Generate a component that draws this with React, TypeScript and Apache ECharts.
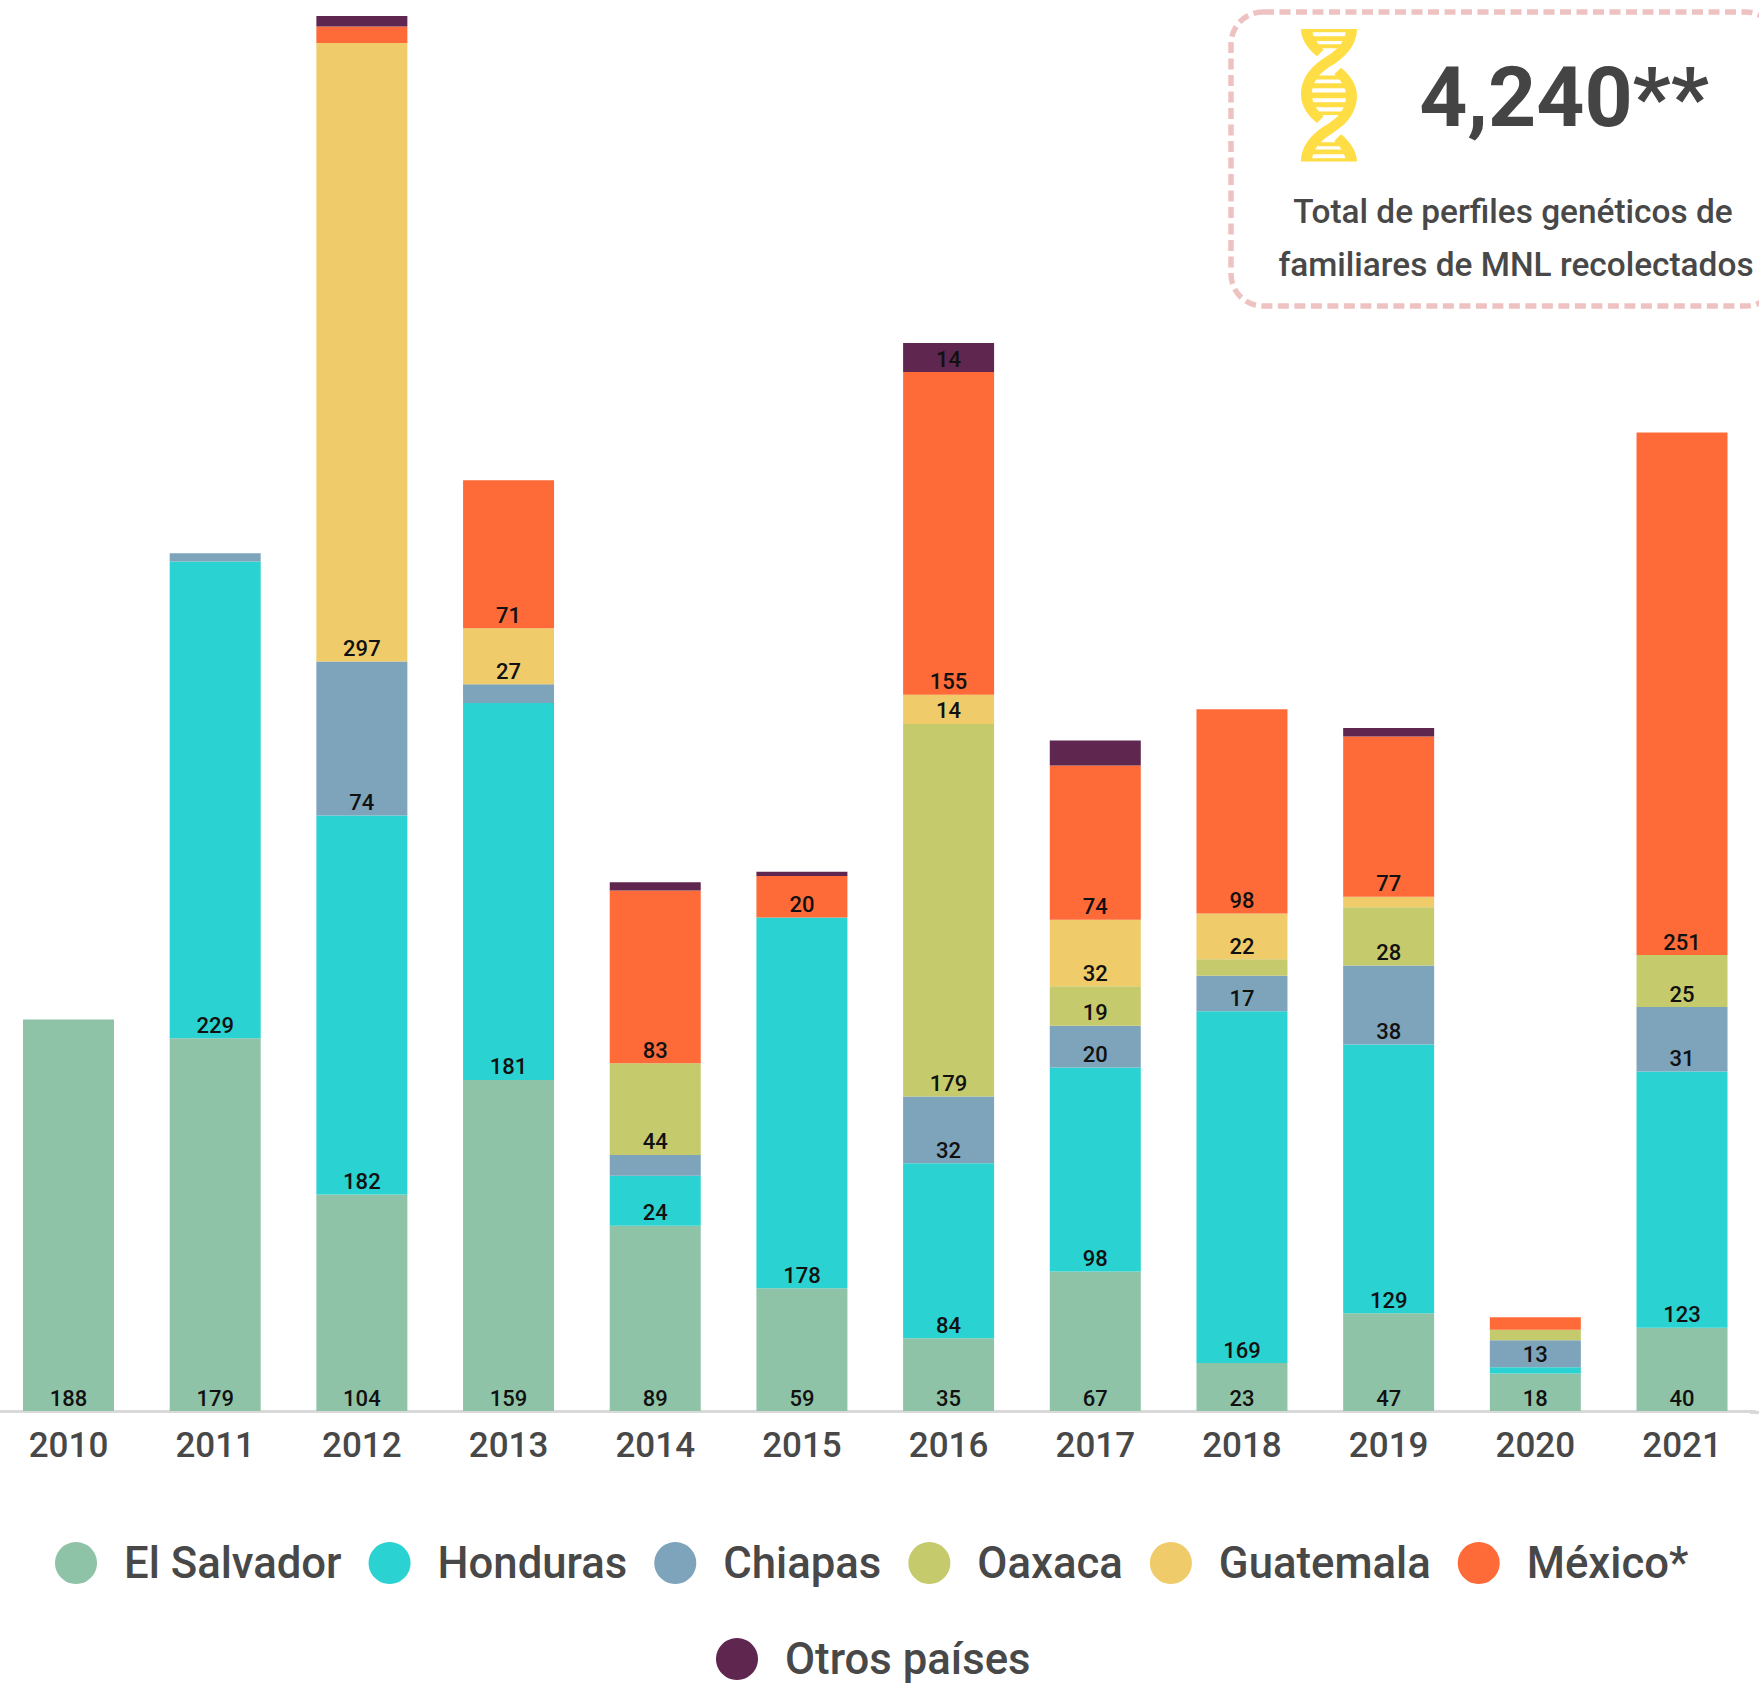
import React, { useEffect, useRef } from "react";
import * as echarts from "echarts";

const years = ["2010","2011","2012","2013","2014","2015","2016","2017","2018","2019","2020","2021"];
const elSalvador = [188,179,104,159,89,59,35,67,23,47,18,40];
const honduras = [null,229,182,181,24,178,84,98,169,129,3,123];
const chiapas = [null,4,74,9,10,null,32,20,17,38,13,31];
const oaxaca = [null,null,null,null,44,null,179,19,8,28,5,25];
const guatemala = [null,null,297,27,null,null,14,32,22,5,null,null];
const mexico = [null,null,8,71,83,20,155,74,98,77,6,251];
const otros = [null,null,5,null,4,2,14,12,null,4,null,null];

const seriesDefs = [
  { name: "El Salvador", data: elSalvador, color: "#8FC3A7" },
  { name: "Honduras", data: honduras, color: "#2BD2D2" },
  { name: "Chiapas", data: chiapas, color: "#7DA4BA" },
  { name: "Oaxaca", data: oaxaca, color: "#C5CB6C" },
  { name: "Guatemala", data: guatemala, color: "#F0CB6A" },
  { name: "México*", data: mexico, color: "#FF6B38" },
  { name: "Otros países", data: otros, color: "#5F274F" },
];

const strands =
  "M0 0 L33 0 C35 25 50 45 68 62 L48 82 C20 60 0 30 0 0 Z " +
  "M135 0 L168 0 C168 50 130 85 100 105 C65 125 33 150 33 198 C33 225 50 245 68 262 L48 282 C20 260 0 230 0 198 C0 140 40 105 78 82 C110 62 135 35 135 0 Z " +
  "M33 398 L0 398 C0 348 38 313 68 293 C103 273 135 248 135 200 C135 173 118 153 100 136 L120 116 C148 138 168 168 168 200 C168 258 128 293 90 316 C58 336 33 363 33 398 Z " +
  "M168 398 L135 398 C133 373 118 353 100 336 L120 316 C148 338 168 368 168 398 Z";
const rungs = [[0,10,30,138],[22,36,30,140],[46,58,52,118],[140,152,44,126],[163,178,33,135],[191,208,33,135],[220,235,33,135],[248,258,44,126],[340,352,52,118],[362,376,30,140],[388,398,30,138]]
  .map(([a,b,l,r]) => `M${l} ${a} L${r} ${a} L${r} ${b} L${l} ${b} Z`).join(" ");

echarts.graphic.registerShape("dnaStrands", echarts.graphic.extendPath(strands, {}) as any);
echarts.graphic.registerShape("dnaRungs", echarts.graphic.extendPath(rungs, {}) as any);

const ink = "#484848";
const shift = 6;

export default function App() {
  const ref = useRef<HTMLDivElement>(null);
  useEffect(() => {
    const chart = echarts.init(ref.current!, undefined, { renderer: "svg" });
    const legendBase = {
      icon: "circle",
      orient: "horizontal" as const,
      itemWidth: 42,
      itemHeight: 42,
      itemGap: 27,
      padding: 0,
      selectedMode: false,
      textStyle: { fontFamily: "Roboto", fontSize: 43.7, fontWeight: 500, color: ink, padding: [0, 0, 2, 22] },
    };
    chart.setOption({
      animation: false,
      backgroundColor: "#ffffff",
      grid: { left: shift - 4.84, top: 16, width: 1760.2, height: 1395, containLabel: false },
      xAxis: {
        type: "category",
        data: years,
        offset: 1.5,
        axisTick: { show: false },
        axisLine: { show: true, lineStyle: { color: "#D9D9D9", width: 3 } },
        axisLabel: { fontFamily: "Roboto", fontSize: 35, fontWeight: 500, color: ink, margin: 15 },
      },
      yAxis: { type: "value", min: 0, max: 670, show: false },
      legend: [
        { ...legendBase, left: 55 + shift, top: 1541, data: seriesDefs.slice(0, 6).map((s) => s.name) },
        { ...legendBase, left: 716 + shift, top: 1637, data: seriesDefs.slice(6).map((s) => s.name) },
      ],
      series: seriesDefs.map((s) => ({
        type: "bar",
        name: s.name,
        stack: "total",
        data: s.data,
        barWidth: 91,
        itemStyle: { color: s.color },
        label: {
          show: true,
          position: "insideBottom",
          distance: 2,
          fontFamily: "Roboto",
          fontSize: 22,
          fontWeight: 500,
          color: "#111111",
          formatter: (p: any) => (p.value >= 13 ? String(p.value) : ""),
        },
      })),
      graphic: [
        { type: "rect", shape: { x: 1231 + shift, y: 12, width: 547, height: 294, r: 32 }, style: { fill: "none", stroke: "#EFC2C2", lineWidth: 5.5, lineDash: [11, 5.5] } },
        { type: "dnaStrands", x: 1301 + shift, y: 29, scaleX: 1 / 3, scaleY: 1 / 3, style: { fill: "#FFDD44" } },
        { type: "dnaRungs", x: 1301 + shift, y: 29, scaleX: 1 / 3, scaleY: 1 / 3, style: { fill: "#FFDD44" } },
        { type: "text", x: 1564 + shift, y: 97, style: { text: "4,240**", font: "700 84px Roboto", fill: "#444444", textAlign: "center", textVerticalAlign: "middle" } },
        { type: "text", x: 1513 + shift, y: 211.5, style: { text: "Total de perfiles genéticos de", font: "500 33.4px Roboto", fill: ink, textAlign: "center", textVerticalAlign: "middle" } },
        { type: "text", x: 1516 + shift, y: 264, style: { text: "familiares de MNL recolectados", font: "500 33.4px Roboto", fill: ink, textAlign: "center", textVerticalAlign: "middle" } },
        { type: "rect", shape: { x: 1750 + shift, y: 1411, width: 9, height: 3 }, style: { fill: "#D9D9D9" } },
      ],
    });
    return () => chart.dispose();
  }, []);
  return <div ref={ref} style={{ position: "absolute", left: -shift, top: 0, width: 1759 + shift, height: 1689 }} />;
}
